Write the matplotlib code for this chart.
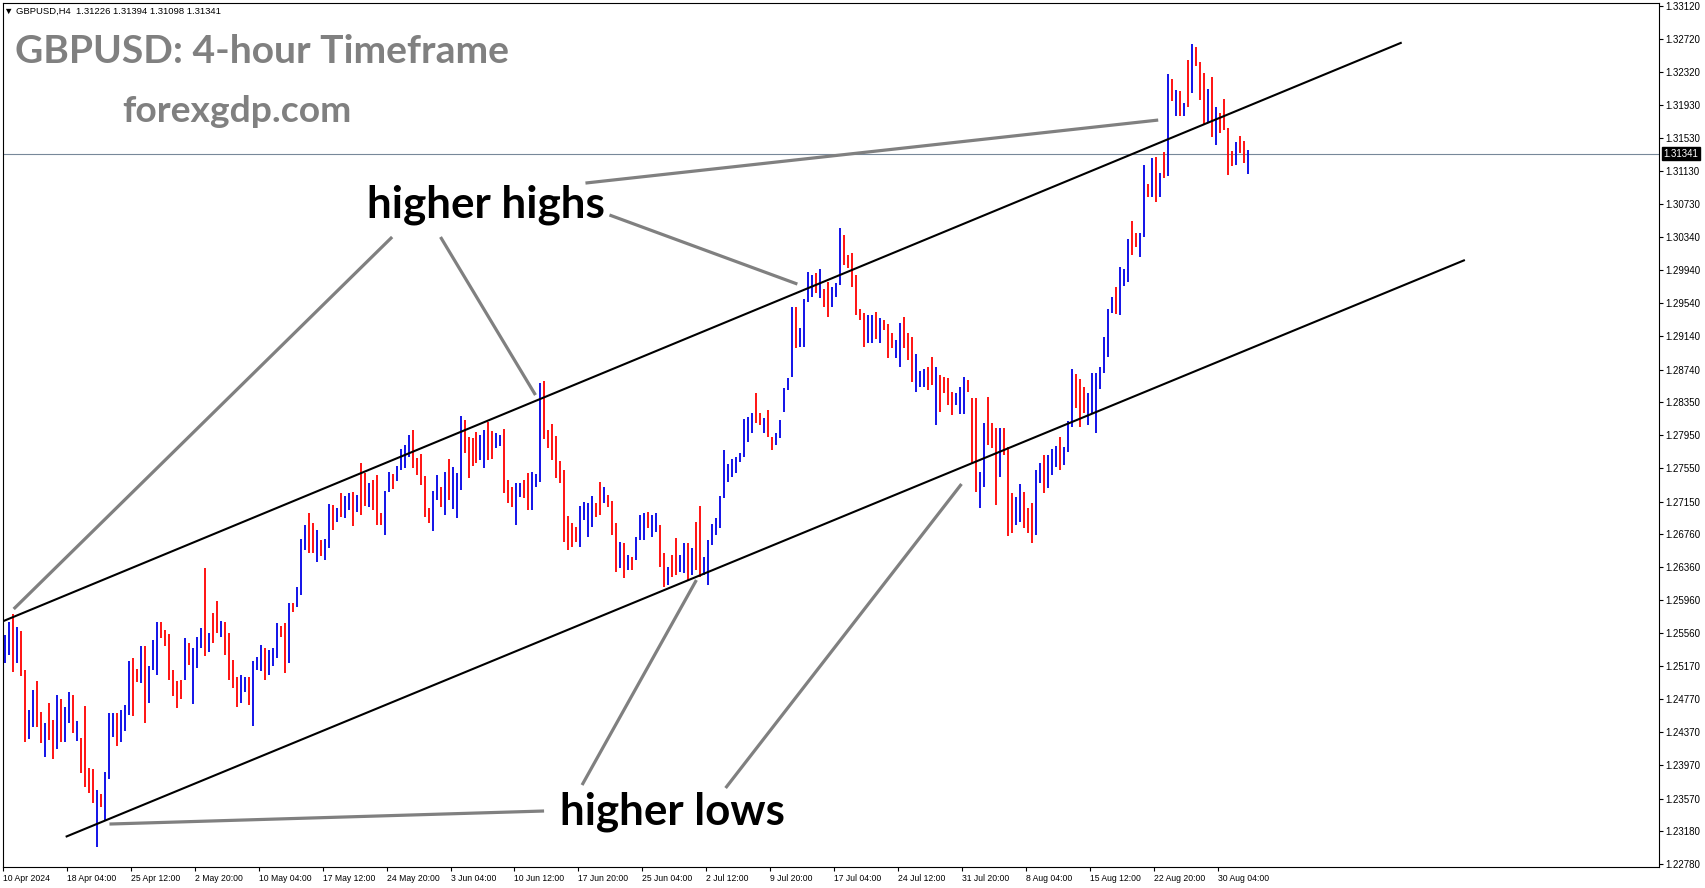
"""GBPUSD H4 chart with a rising channel, drawn like a MetaTrader bar chart."""

import matplotlib
matplotlib.use("Agg")
import matplotlib.pyplot as plt
import numpy as np

W, H = 1705, 888

# one bar per 8 hours (10 Apr 2024 .. 30 Aug 2024)
bar_high = [
    1.2554, 1.2570, 1.2579, 1.2564, 1.2559, 1.2512, 1.2464, 1.2488, 1.2499, 1.2461,
    1.2448, 1.2472, 1.2452, 1.2482, 1.2477, 1.2467, 1.2485, 1.2482, 1.2451, 1.2430,
    1.2469, 1.2394, 1.2393, 1.2367, 1.2363, 1.2389, 1.2460, 1.2460, 1.2460, 1.2464,
    1.2470, 1.2523, 1.2526, 1.2513, 1.2541, 1.2541, 1.2517, 1.2548, 1.2570, 1.2570,
    1.2560, 1.2555, 1.2512, 1.2499, 1.2500, 1.2550, 1.2544, 1.2539, 1.2552, 1.2563,
    1.2635, 1.2557, 1.2581, 1.2595, 1.2571, 1.2570, 1.2557, 1.2524, 1.2504, 1.2506,
    1.2504, 1.2504, 1.2523, 1.2528, 1.2542, 1.2538, 1.2536, 1.2538, 1.2569, 1.2565,
    1.2569, 1.2593, 1.2593, 1.2612, 1.2670, 1.2687, 1.2701, 1.2689, 1.2681, 1.2669,
    1.2670, 1.2712, 1.2711, 1.2707, 1.2725, 1.2722, 1.2725, 1.2726, 1.2723, 1.2761,
    1.2749, 1.2737, 1.2741, 1.2747, 1.2701, 1.2728, 1.2750, 1.2748, 1.2758, 1.2778,
    1.2783, 1.2795, 1.2801, 1.2767, 1.2772, 1.2746, 1.2707, 1.2728, 1.2747, 1.2732,
    1.2750, 1.2766, 1.2756, 1.2749, 1.2818, 1.2813, 1.2793, 1.2791, 1.2799, 1.2795,
    1.2801, 1.2811, 1.2800, 1.2797, 1.2795, 1.2802, 1.2741, 1.2732, 1.2737, 1.2737,
    1.2741, 1.2749, 1.2750, 1.2748, 1.2858, 1.2860, 1.2801, 1.2808, 1.2794, 1.2764,
    1.2753, 1.2698, 1.2689, 1.2684, 1.2710, 1.2715, 1.2713, 1.2722, 1.2713, 1.2738,
    1.2732, 1.2723, 1.2716, 1.2689, 1.2666, 1.2665, 1.2650, 1.2648, 1.2672, 1.2699,
    1.2701, 1.2702, 1.2699, 1.2701, 1.2687, 1.2653, 1.2636, 1.2650, 1.2671, 1.2650,
    1.2665, 1.2665, 1.2659, 1.2690, 1.2710, 1.2648, 1.2669, 1.2688, 1.2695, 1.2722,
    1.2777, 1.2760, 1.2766, 1.2769, 1.2774, 1.2814, 1.2817, 1.2822, 1.2846, 1.2822,
    1.2816, 1.2825, 1.2793, 1.2797, 1.2813, 1.2852, 1.2864, 1.2949, 1.2949, 1.2924,
    1.2959, 1.2992, 1.2988, 1.2990, 1.2995, 1.2971, 1.2979, 1.2973, 1.2978, 1.3045,
    1.3036, 1.3012, 1.3014, 1.2988, 1.2947, 1.2942, 1.2940, 1.2940, 1.2943, 1.2936,
    1.2934, 1.2929, 1.2918, 1.2910, 1.2930, 1.2937, 1.2918, 1.2913, 1.2893, 1.2872,
    1.2875, 1.2877, 1.2889, 1.2877, 1.2867, 1.2865, 1.2864, 1.2847, 1.2846, 1.2853,
    1.2865, 1.2861, 1.2840, 1.2840, 1.2750, 1.2810, 1.2841, 1.2810, 1.2804, 1.2804,
    1.2804, 1.2781, 1.2725, 1.2720, 1.2736, 1.2726, 1.2707, 1.2713, 1.2753, 1.2761,
    1.2771, 1.2771, 1.2778, 1.2782, 1.2793, 1.2781, 1.2812, 1.2875, 1.2869, 1.2863,
    1.2853, 1.2846, 1.2870, 1.2870, 1.2877, 1.2913, 1.2947, 1.2961, 1.2973, 1.2997,
    1.2995, 1.3031, 1.3053, 1.3038, 1.3038, 1.3120, 1.3097, 1.3129, 1.3130, 1.3111,
    1.3136, 1.3230, 1.3224, 1.3211, 1.3210, 1.3195, 1.3247, 1.3266, 1.3263, 1.3245,
    1.3231, 1.3212, 1.3226, 1.3190, 1.3183, 1.3200, 1.3165, 1.3137, 1.3148, 1.3155,
    1.3149, 1.3139,
]
bar_low = [
    1.2520, 1.2530, 1.2510, 1.2520, 1.2505, 1.2425, 1.2429, 1.2443, 1.2443, 1.2424,
    1.2407, 1.2428, 1.2405, 1.2417, 1.2425, 1.2425, 1.2448, 1.2436, 1.2427, 1.2388,
    1.2371, 1.2364, 1.2352, 1.2299, 1.2347, 1.2331, 1.2381, 1.2431, 1.2421, 1.2425,
    1.2438, 1.2458, 1.2456, 1.2498, 1.2496, 1.2448, 1.2472, 1.2512, 1.2506, 1.2550,
    1.2541, 1.2500, 1.2481, 1.2466, 1.2477, 1.2500, 1.2518, 1.2471, 1.2514, 1.2539,
    1.2529, 1.2534, 1.2544, 1.2557, 1.2552, 1.2530, 1.2500, 1.2490, 1.2467, 1.2472,
    1.2485, 1.2470, 1.2445, 1.2512, 1.2511, 1.2500, 1.2506, 1.2517, 1.2527, 1.2552,
    1.2508, 1.2520, 1.2582, 1.2588, 1.2602, 1.2657, 1.2653, 1.2653, 1.2642, 1.2649,
    1.2645, 1.2659, 1.2681, 1.2690, 1.2696, 1.2695, 1.2705, 1.2685, 1.2702, 1.2699,
    1.2710, 1.2708, 1.2705, 1.2687, 1.2687, 1.2675, 1.2726, 1.2730, 1.2740, 1.2753,
    1.2755, 1.2769, 1.2755, 1.2747, 1.2735, 1.2696, 1.2689, 1.2679, 1.2717, 1.2708,
    1.2699, 1.2717, 1.2706, 1.2695, 1.2729, 1.2773, 1.2743, 1.2758, 1.2761, 1.2765,
    1.2755, 1.2765, 1.2766, 1.2779, 1.2782, 1.2725, 1.2713, 1.2708, 1.2687, 1.2720,
    1.2719, 1.2705, 1.2705, 1.2732, 1.2739, 1.2790, 1.2779, 1.2765, 1.2743, 1.2737,
    1.2666, 1.2656, 1.2660, 1.2666, 1.2660, 1.2693, 1.2672, 1.2684, 1.2696, 1.2699,
    1.2713, 1.2708, 1.2675, 1.2630, 1.2635, 1.2623, 1.2632, 1.2632, 1.2644, 1.2669,
    1.2669, 1.2683, 1.2672, 1.2678, 1.2636, 1.2612, 1.2614, 1.2624, 1.2626, 1.2630,
    1.2629, 1.2620, 1.2626, 1.2632, 1.2624, 1.2626, 1.2614, 1.2663, 1.2675, 1.2683,
    1.2719, 1.2738, 1.2745, 1.2749, 1.2763, 1.2769, 1.2787, 1.2797, 1.2810, 1.2807,
    1.2797, 1.2793, 1.2777, 1.2783, 1.2791, 1.2823, 1.2849, 1.2865, 1.2900, 1.2901,
    1.2901, 1.2955, 1.2961, 1.2966, 1.2960, 1.2949, 1.2937, 1.2949, 1.2961, 1.2976,
    1.3000, 1.2996, 1.2973, 1.2940, 1.2934, 1.2901, 1.2906, 1.2906, 1.2911, 1.2906,
    1.2922, 1.2888, 1.2900, 1.2888, 1.2877, 1.2900, 1.2885, 1.2859, 1.2847, 1.2853,
    1.2853, 1.2849, 1.2855, 1.2807, 1.2823, 1.2846, 1.2831, 1.2819, 1.2831, 1.2820,
    1.2820, 1.2847, 1.2760, 1.2726, 1.2707, 1.2733, 1.2783, 1.2779, 1.2711, 1.2745,
    1.2771, 1.2673, 1.2677, 1.2687, 1.2690, 1.2683, 1.2677, 1.2665, 1.2675, 1.2737,
    1.2725, 1.2731, 1.2747, 1.2757, 1.2753, 1.2759, 1.2775, 1.2805, 1.2828, 1.2805,
    1.2822, 1.2807, 1.2822, 1.2797, 1.2851, 1.2870, 1.2889, 1.2942, 1.2941, 1.2940,
    1.2975, 1.2979, 1.3012, 1.3022, 1.3010, 1.3034, 1.3082, 1.3082, 1.3076, 1.3082,
    1.3105, 1.3107, 1.3198, 1.3179, 1.3179, 1.3179, 1.3190, 1.3207, 1.3240, 1.3199,
    1.3169, 1.3171, 1.3154, 1.3145, 1.3159, 1.3163, 1.3108, 1.3119, 1.3120, 1.3135,
    1.3123, 1.3110,
]
# b = bullish (blue), r = bearish (red)
bar_dir = (
    "bbrbrrbbrr" "brrbrbbrbr" "rrrbrbbbrb" "bbrrbrbbbr" "rrrrrbrbbb"
    "rbrrbrrrrb" "brbbbrbbbr" "rbrbbbrrbr" "bbrbrbbrbr" "rbrrrbbrbb"
    "bbrrrrrbbr" "brbbbrrrrb" "brrbbrrrbb" "rrbbbrrrrr" "rrrrbbbbrr"
    "brrrbrbrbb" "brbbrrbrrb" "brbrrbbbbb" "bbbbbbbbrr" "brrbbbbbrb"
    "bbbrbrrbbb" "rrrrrrbbrb" "rrrbbrrrbb" "brrbrrrrbb" "brrrbbrrrb"
    "rrrbbrrrbb" "rbbbrbbbrr" "rbbbbbbbrb" "bbrrbbrbrb" "rbrbrbrbrr"
    "rbrbrrrrbr" "rb"
)

header_ohlc = [1.31226, 1.31394, 1.31098, 1.31341]
last_price = 1.31341

price_ticks = [
    1.33120, 1.32720, 1.32320, 1.31930, 1.31530, 1.31130, 1.30730, 1.30340,
    1.29940, 1.29540, 1.29140, 1.28740, 1.28350, 1.27950, 1.27550, 1.27150,
    1.26760, 1.26360, 1.25960, 1.25560, 1.25170, 1.24770, 1.24370, 1.23970,
    1.23570, 1.23180, 1.22780,
]
time_labels = [
    "10 Apr 2024", "18 Apr 04:00", "25 Apr 12:00", "2 May 20:00", "10 May 04:00",
    "17 May 12:00", "24 May 20:00", "3 Jun 04:00", "10 Jun 12:00", "17 Jun 20:00",
    "25 Jun 04:00", "2 Jul 12:00", "9 Jul 20:00", "17 Jul 04:00", "24 Jul 12:00",
    "31 Jul 20:00", "8 Aug 04:00", "15 Aug 12:00", "22 Aug 20:00", "30 Aug 04:00",
]
label_step = 16  # bars between time labels

# channel lines and pointer lines, (bar, price) end points
channel_upper = ([-0.3, 349.4], [1.2571, 1.3268])
channel_lower = ([15.25, 365.2], [1.2311, 1.3006])
pointers_highs = [
    ([96.9, 2.25], [1.30337, 1.25855]),
    ([109.0, 132.75], [1.30337, 1.28433]),
    ([151.25, 198.25], [1.30602, 1.29770]),
    ([145.25, 288.5], [1.30987, 1.31746]),
]
pointers_lows = [
    ([134.9, 26.2], [1.23421, 1.23264]),
    ([144.4, 173.0], [1.23734, 1.26204]),
    ([180.3, 239.3], [1.23698, 1.27361]),
]

plt.rcParams["font.family"] = ["Liberation Sans", "DejaVu Sans"]

fig = plt.figure(figsize=(W / 100, H / 100), dpi=100)
ax = fig.add_axes([2.7 / W, 1 - 866.7 / H, (1659 - 2.7) / W, (866.7 - 2.7) / H])
ax.set_xlim(-0.325, 413.75)
ax.set_ylim(1.22750, 1.33160)

# Bars
n = min(len(bar_high), len(bar_low), len(bar_dir))
xs = np.arange(n)
cols = ["#0000e6" if d == "b" else "#ff0000" for d in bar_dir[:n]]
ax.vlines(xs, bar_low[:n], bar_high[:n], colors=cols, linewidth=1.3)

# Current price
ax.axhline(last_price, color="#778899", linewidth=0.8, zorder=1)

# Channel
for cx, cp in (channel_upper, channel_lower):
    ax.plot(cx, cp, color="black", linewidth=1.5, solid_capstyle="butt", zorder=3)

# Pointers
for px, pp in pointers_highs + pointers_lows:
    ax.plot(px, pp, color="#808080", linewidth=2.3, solid_capstyle="butt", zorder=4)

# Axes look
for s in ax.spines.values():
    s.set_color("black")
    s.set_linewidth(0.8)

ax.yaxis.tick_right()
ax.set_yticks(price_ticks)
ax.set_yticklabels([f"{p:.5f}" for p in price_ticks])
ax.tick_params(axis="y", direction="out", length=3, width=0.8, labelsize=7, pad=1.5)

ax.set_xticks(np.arange(len(time_labels)) * label_step - 0.5)
ax.set_xticklabels(time_labels, ha="left")
ax.tick_params(axis="x", direction="out", length=3, width=0.8, labelsize=6.2, pad=2)

ax.annotate(
    f"{last_price:.5f}",
    xy=(1, last_price),
    xycoords=("axes fraction", "data"),
    xytext=(3, 0),
    textcoords="offset points",
    ha="left",
    va="center",
    fontsize=7,
    color="white",
    bbox=dict(boxstyle="square,pad=0.15", fc="black", ec="black"),
    annotation_clip=False,
)

# Texts
fig.text(
    4 / W, 1 - 11 / H,
    "\u25bc GBPUSD,H4  " + " ".join(f"{v:.5f}" for v in header_ohlc),
    fontsize=6.8, va="center", ha="left",
)
title = fig.text(15 / W, 1 - 63 / H, "GBPUSD: 4-hour Timeframe",
                 fontsize=30, family="Lato", weight="bold", color="#808080",
                 va="baseline")
site = fig.text(122 / W, 1 - 122 / H, "forexgdp.com",
                fontsize=22, family="Lato", weight="bold", color="#808080",
                va="baseline")
hh = ax.text(90.6, 1.30572, "higher highs", fontsize=28, family="Lato",
             weight="bold", color="black", va="baseline", zorder=5)
hl = ax.text(139.0, 1.23264, "higher lows", fontsize=28, family="Lato",
             weight="bold", color="black", va="baseline", zorder=5)

# scale the big texts to the widths seen on the chart
fig.canvas.draw()
renderer = fig.canvas.get_renderer()
for txt, width_px in ((title, 494), (site, 229), (hh, 238), (hl, 225)):
    bb = txt.get_window_extent(renderer)
    txt.set_fontsize(txt.get_fontsize() * width_px / bb.width)

fig.savefig("out.png", dpi=100)
